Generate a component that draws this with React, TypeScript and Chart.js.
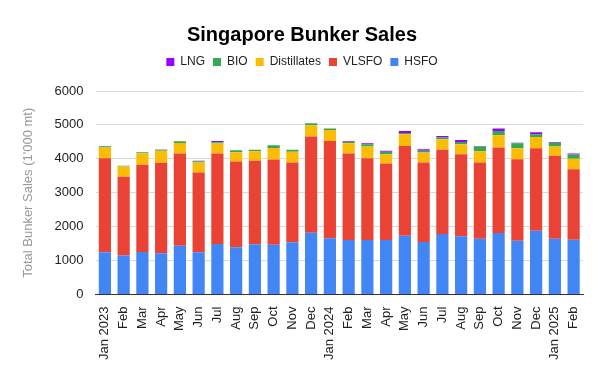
import React, { useEffect, useRef } from "react";
import { Chart, registerables } from "chart.js";

Chart.register(...registerables);

const categories = [
  "Jan 2023", "Feb", "Mar", "Apr", "May", "Jun", "Jul", "Aug", "Sep", "Oct", "Nov", "Dec",
  "Jan 2024", "Feb", "Mar", "Apr", "May", "Jun", "Jul", "Aug", "Sep", "Oct", "Nov", "Dec",
  "Jan 2025", "Feb",
];

const hsfo = [1245, 1147, 1255, 1216, 1441, 1245, 1490, 1392, 1480, 1470, 1539, 1824, 1657, 1608, 1608, 1608, 1735, 1549, 1784, 1716, 1647, 1814, 1588, 1882, 1647, 1618];
const vlsfo = [2775, 2323, 2569, 2666, 2716, 2353, 2667, 2530, 2461, 2510, 2353, 2833, 2872, 2549, 2412, 2255, 2647, 2343, 2481, 2421, 2245, 2519, 2402, 2432, 2441, 2078];
const distillates = [313, 305, 343, 353, 313, 294, 294, 274, 284, 343, 314, 333, 324, 304, 343, 274, 343, 294, 313, 294, 333, 363, 324, 333, 275, 304];
const bio = [40, 20, 29, 30, 50, 40, 39, 59, 40, 79, 59, 59, 39, 39, 68, 69, 40, 49, 49, 69, 138, 128, 147, 78, 108, 127];
const lng = [7, 0, 0, 10, 0, 9, 39, 0, 0, 0, 0, 0, 5, 20, 30, 29, 59, 49, 49, 59, 19, 68, 10, 59, 29, 30];

const yTicks = [0, 1000, 2000, 3000, 4000, 5000, 6000];

const FONT = "Arial, 'Liberation Sans', sans-serif";

const legendSpacer = {
  id: "legendSpacer",
  beforeInit(chart: any) {
    const legend = chart.legend;
    if (!legend) return;
    const orig = legend.fit;
    legend.fit = function () {
      orig.call(this);
      this.height += 13;
    };
  },
};

export default function App() {
  const ref = useRef<HTMLCanvasElement | null>(null);
  useEffect(() => {
    document.body.style.margin = "0";
    const ctx = ref.current!;
    const chart = new Chart(ctx, {
      type: "bar",
      data: {
        labels: categories,
        datasets: [
          { label: "HSFO", data: hsfo, backgroundColor: "#4285f4" },
          { label: "VLSFO", data: vlsfo, backgroundColor: "#ea4335" },
          { label: "Distillates", data: distillates, backgroundColor: "#fbbc04" },
          { label: "BIO", data: bio, backgroundColor: "#34a853" },
          { label: "LNG", data: lng, backgroundColor: "#9900ff" },
        ],
      },
      plugins: [legendSpacer],
      options: {
        animation: false,
        responsive: false,
        maintainAspectRatio: false,
        layout: { padding: { left: 21, right: 22, top: 23, bottom: 10 } },
        datasets: { bar: { barPercentage: 0.65, categoryPercentage: 1.0 } },
        plugins: {
          title: {
            display: true,
            text: "Singapore Bunker Sales",
            color: "#000",
            font: { family: FONT, size: 20, weight: "bold" },
            padding: { top: 0, bottom: 1 },
          },
          legend: {
            display: true,
            reverse: true,
            labels: {
              color: "#222",
              font: { family: FONT, size: 12 },
              boxWidth: 8,
              boxHeight: 8,
              padding: 8,
            },
          },
          tooltip: { enabled: false },
        },
        scales: {
          x: {
            stacked: true,
            grid: { display: false },
            border: { color: "#333" },
            ticks: {
              autoSkip: false,
              maxRotation: 90,
              minRotation: 90,
              color: "#222",
              font: { family: FONT, size: 13 },
              padding: 4,
            },
          },
          y: {
            stacked: true,
            min: 0,
            max: 6000,
            border: { display: false },
            afterBuildTicks: (axis: any) => {
              const t: any[] = [];
              for (let v = 0; v <= 6000; v += 500) t.push({ value: v });
              axis.ticks = t;
            },
            grid: {
              color: (c: any) => (c.tick && c.tick.value % 1000 === 0 ? "#d9d9d9" : "#efefef"),
              drawTicks: false,
            },
            ticks: {
              color: "#222",
              font: { family: FONT, size: 13 },
              padding: 12,
              callback: (v: any) => (yTicks.includes(Number(v)) ? String(v) : ""),
            },
            title: {
              display: true,
              text: "Total Bunker Sales (1'000 mt)",
              color: "#999",
              font: { family: FONT, size: 13 },
              padding: { top: 0, bottom: 6 },
            },
          },
        },
      },
    });
    return () => chart.destroy();
  }, []);
  return (
    <div style={{ width: 605, height: 374, background: "#fff" }}>
      <canvas ref={ref} width={605} height={374} style={{ width: 605, height: 374, display: "block" }} />
    </div>
  );
}
